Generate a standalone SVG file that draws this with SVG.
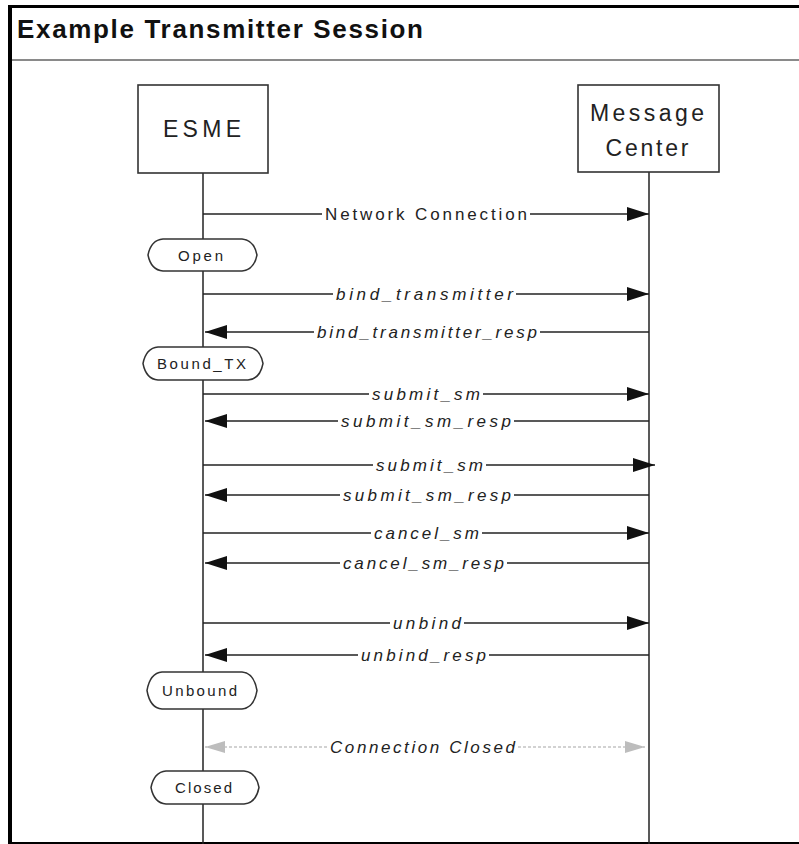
<svg xmlns="http://www.w3.org/2000/svg" width="799" height="844" viewBox="0 0 799 844">
  <defs>
    <marker id="head" viewBox="0 0 22 14" refX="22" refY="7" markerWidth="22" markerHeight="14" markerUnits="userSpaceOnUse" orient="auto">
      <path d="M0,0 L22,7 L0,14 z" fill="#111"/>
    </marker>
    <marker id="headGray" viewBox="0 0 20 12" refX="20" refY="6" markerWidth="20" markerHeight="12" markerUnits="userSpaceOnUse" orient="auto">
      <path d="M0,0 L20,6 L0,12 z" fill="#bdbdbd"/>
    </marker>
  </defs>
  <style>
    .title { font-family: "Liberation Sans", Arial, sans-serif; font-weight: bold; font-size: 26px; fill: #111; }
    .box { fill: #fff; stroke: #333; stroke-width: 1.6; }
    .boxText { font-family: "Liberation Sans", Arial, sans-serif; font-size: 23px; fill: #222; text-anchor: middle; }
    .life { stroke: #222; stroke-width: 1.5; }
    .msg { stroke: #222; stroke-width: 1.5; fill: none; }
    .lbl { font-family: "Liberation Sans", Arial, sans-serif; font-size: 17px; font-style: italic; fill: #222; }
    .lblUp { font-family: "Liberation Sans", Arial, sans-serif; font-size: 17px; fill: #222; }
    .state { fill: #fff; stroke: #333; stroke-width: 1.5; }
    .stateText { font-family: "Liberation Sans", Arial, sans-serif; font-size: 15px; fill: #222; }
    .closed { stroke: #c4c4c4; stroke-width: 1.5; stroke-dasharray: 3 2; fill: none; }
  </style>

  <!-- page -->
  <rect x="0" y="0" width="799" height="844" fill="#fff"/>
  <rect x="8" y="5" width="4" height="839" fill="#000"/>
  <rect x="8" y="5" width="791" height="3" fill="#000"/>
  <rect x="8" y="842" width="791" height="2" fill="#000"/>
  <rect x="12" y="59" width="787" height="2" fill="#8a8a8a"/>
  <text class="title" x="17" y="38" textLength="406" lengthAdjust="spacing">Example Transmitter Session</text>

  <!-- lifelines -->
  <g id="lifelines">
    <line class="life" x1="203" y1="173" x2="203" y2="844"/>
    <line class="life" x1="649" y1="172" x2="649" y2="844"/>
  </g>

  <g id="esme">
    <rect class="box" x="138" y="85" width="130" height="88"/>
    <text class="boxText" x="202" y="137" textLength="78" lengthAdjust="spacing">ESME</text>
  </g>

  <g id="message-center">
    <rect class="box" x="578" y="85" width="141" height="87"/>
    <text class="boxText" x="647" y="121" textLength="114" lengthAdjust="spacing">Message</text>
    <text class="boxText" x="647" y="156" textLength="83" lengthAdjust="spacing">Center</text>
  </g>

  <!-- states on the ESME lifeline -->
  <g id="state-open">
    <path class="state" d="M163,239 H242 Q254,240 257,255 Q254,270 242,271 H163 Q151,270 148,255 Q151,240 163,239 z"/>
    <text class="stateText" x="178" y="261" textLength="45" lengthAdjust="spacing">Open</text>
  </g>
  <g id="state-bound-tx">
    <path class="state" d="M158,347 H248 Q260,348 263,363.5 Q260,379 248,380 H158 Q146,379 143,363.5 Q146,348 158,347 z"/>
    <text class="stateText" x="157" y="369" textLength="89" lengthAdjust="spacing">Bound_TX</text>
  </g>
  <g id="state-unbound">
    <path class="state" d="M162,672 H242 Q254,673 257,690.5 Q254,708 242,709 H162 Q150,708 147,690.5 Q150,673 162,672 z"/>
    <text class="stateText" x="162" y="696" textLength="75" lengthAdjust="spacing">Unbound</text>
  </g>
  <g id="state-closed">
    <path class="state" d="M166,771 H244 Q256,772 259,787.5 Q256,803 244,804 H166 Q154,803 151,787.5 Q154,772 166,771 z"/>
    <text class="stateText" x="175" y="793" textLength="57" lengthAdjust="spacing">Closed</text>
  </g>

  <!-- messages -->
  <g id="connectors">
    <!-- Network Connection -->
    <line class="msg" x1="203" y1="214" x2="322" y2="214"/>
    <line class="msg" x1="530" y1="214" x2="649" y2="214" marker-end="url(#head)"/>
    <text class="lblUp" x="325" y="220" textLength="202" lengthAdjust="spacing">Network Connection</text>

    <!-- bind_transmitter -->
    <line class="msg" x1="203" y1="294" x2="333" y2="294"/>
    <line class="msg" x1="516" y1="294" x2="649" y2="294" marker-end="url(#head)"/>
    <text class="lbl" x="336" y="300" textLength="177" lengthAdjust="spacing">bind_transmitter</text>

    <!-- bind_transmitter_resp -->
    <line class="msg" x1="649" y1="332" x2="540" y2="332"/>
    <line class="msg" x1="314" y1="332" x2="205" y2="332" marker-end="url(#head)"/>
    <text class="lbl" x="317" y="338" textLength="220" lengthAdjust="spacing">bind_transmitter_resp</text>

    <!-- submit_sm -->
    <line class="msg" x1="203" y1="394" x2="369" y2="394"/>
    <line class="msg" x1="483" y1="394" x2="649" y2="394" marker-end="url(#head)"/>
    <text class="lbl" x="372" y="400" textLength="108" lengthAdjust="spacing">submit_sm</text>

    <!-- submit_sm_resp -->
    <line class="msg" x1="649" y1="421" x2="514" y2="421"/>
    <line class="msg" x1="338" y1="421" x2="205" y2="421" marker-end="url(#head)"/>
    <text class="lbl" x="341" y="427" textLength="170" lengthAdjust="spacing">submit_sm_resp</text>

    <!-- submit_sm -->
    <line class="msg" x1="203" y1="465" x2="373" y2="465"/>
    <line class="msg" x1="486" y1="465" x2="655" y2="465" marker-end="url(#head)"/>
    <text class="lbl" x="376" y="471" textLength="107" lengthAdjust="spacing">submit_sm</text>

    <!-- submit_sm_resp -->
    <line class="msg" x1="649" y1="495" x2="514" y2="495"/>
    <line class="msg" x1="340" y1="495" x2="205" y2="495" marker-end="url(#head)"/>
    <text class="lbl" x="343" y="501" textLength="168" lengthAdjust="spacing">submit_sm_resp</text>

    <!-- cancel_sm -->
    <line class="msg" x1="203" y1="533" x2="371" y2="533"/>
    <line class="msg" x1="482" y1="533" x2="649" y2="533" marker-end="url(#head)"/>
    <text class="lbl" x="374" y="539" textLength="105" lengthAdjust="spacing">cancel_sm</text>

    <!-- cancel_sm_resp -->
    <line class="msg" x1="649" y1="563" x2="507" y2="563"/>
    <line class="msg" x1="340" y1="563" x2="205" y2="563" marker-end="url(#head)"/>
    <text class="lbl" x="343" y="569" textLength="161" lengthAdjust="spacing">cancel_sm_resp</text>

    <!-- unbind -->
    <line class="msg" x1="203" y1="623" x2="390" y2="623"/>
    <line class="msg" x1="464" y1="623" x2="649" y2="623" marker-end="url(#head)"/>
    <text class="lbl" x="393" y="629" textLength="68" lengthAdjust="spacing">unbind</text>

    <!-- unbind_resp -->
    <line class="msg" x1="649" y1="655" x2="489" y2="655"/>
    <line class="msg" x1="358" y1="655" x2="205" y2="655" marker-end="url(#head)"/>
    <text class="lbl" x="361" y="661" textLength="125" lengthAdjust="spacing">unbind_resp</text>

    <!-- Connection Closed -->
    <line class="closed" x1="327" y1="747" x2="205" y2="747" marker-end="url(#headGray)"/>
    <line class="closed" x1="518" y1="747" x2="645" y2="747" marker-end="url(#headGray)"/>
    <text class="lbl" x="330" y="753" textLength="185" lengthAdjust="spacing">Connection Closed</text>
  </g>
</svg>
